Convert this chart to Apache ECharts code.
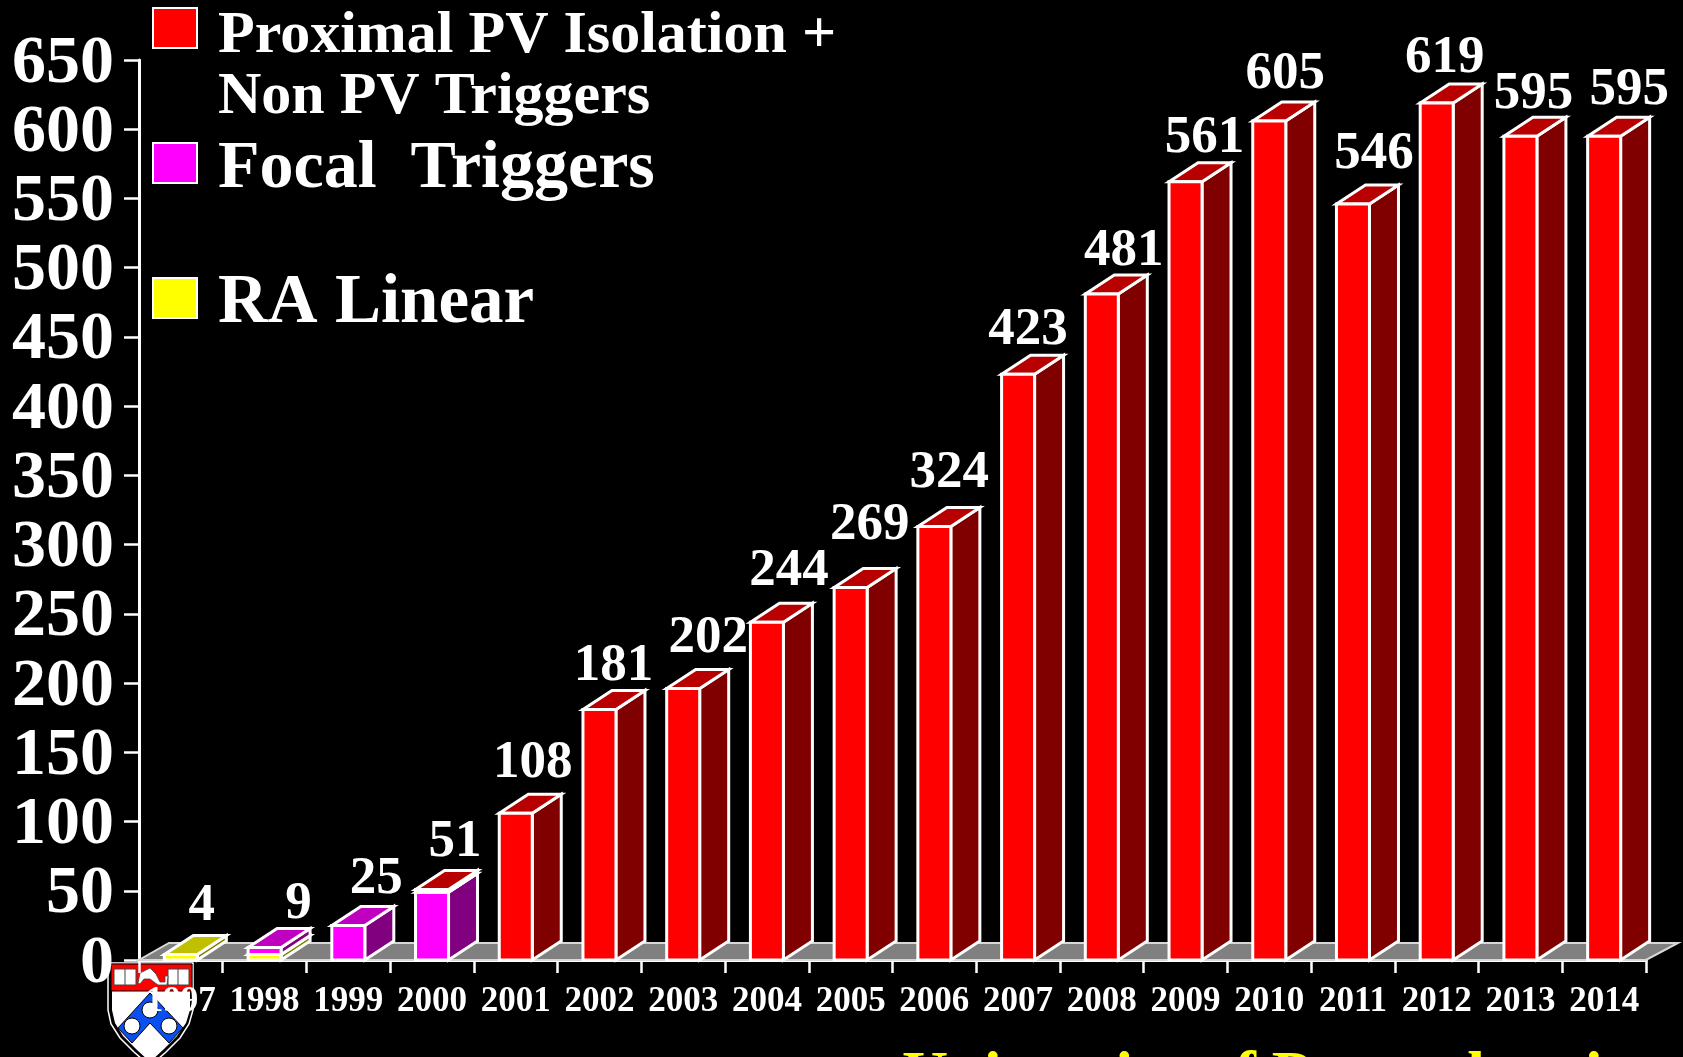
<!DOCTYPE html>
<html>
<head>
<meta charset="utf-8">
<title>Ablation procedures by year</title>
<style>
  html, body { margin: 0; padding: 0; background: #000; }
  #chart { width: 1683px; height: 1057px; }
</style>
<script src="https://cdn.jsdelivr.net/npm/echarts@6/dist/echarts.min.js"></script>
</head>
<body>
<div id="chart"></div>
<script>
// 数据：年份、三个堆叠系列（读图估计的柱高）、柱顶数字
const years = ['1997', '1998', '1999', '2000', '2001', '2002', '2003', '2004', '2005',
  '2006', '2007', '2008', '2009', '2010', '2011', '2012', '2013', '2014'];
const raLinear = [4, 4, 0, 0, 0, 0, 0, 0, 0, 0, 0, 0, 0, 0, 0, 0, 0, 0];
const focalTriggers = [0, 5, 25, 49, 0, 0, 0, 0, 0, 0, 0, 0, 0, 0, 0, 0, 0, 0];
const pvIsolation = [0, 0, 0, 2, 106, 181, 196, 244, 269, 313, 423, 481, 562, 606, 546, 619, 595, 595];
const printedTotals = [4, 9, 25, 51, 108, 181, 202, 244, 269, 324, 423, 481, 561, 605, 546, 619, 595, 595];

// 柱顶数字相对柱顶的手工偏移（原图中数字是手动摆放的）
const labelShiftX = [21, 34, 28, 23, 17, 14, 25, 22, 19, 15, 10, 22, 19, 16, 21, 8, 13, 25];
const labelShiftY = [-48, -43, -46, -47, -50, -43, -50, -51, -62, -53, -44, -43, -44, -47, -50, -45, -42, -46];

const SERIF = '"Liberation Serif", "Times New Roman", serif';
const BAR_WIDTH = 33;
const DEPTH_X = 29;
const DEPTH_Y = 19;
const EDGE = { stroke: '#fff', lineWidth: 3, lineJoin: 'miter' };

// 生成立体柱的渲染函数
function prism(front, top, side) {
  return function (params, api) {
    const lo = api.value(1);
    const hi = api.value(2);
    if (hi <= lo) return null;
    const base = api.coord([api.value(0), lo]);
    const head = api.coord([api.value(0), hi]);
    const x0 = base[0] - BAR_WIDTH / 2;
    const x1 = base[0] + BAR_WIDTH / 2;
    const y0 = base[1];
    const y1 = head[1];
    const poly = (points, fill) => ({
      type: 'polygon',
      shape: { points },
      style: { fill, ...EDGE }
    });
    return {
      type: 'group',
      children: [
        poly([[x1, y0], [x1 + DEPTH_X, y0 - DEPTH_Y], [x1 + DEPTH_X, y1 - DEPTH_Y], [x1, y1]], side),
        poly([[x0, y1], [x1, y1], [x1 + DEPTH_X, y1 - DEPTH_Y], [x0 + DEPTH_X, y1 - DEPTH_Y]], top),
        poly([[x0, y0], [x1, y0], [x1, y1], [x0, y1]], front)
      ]
    };
  };
}

// 堆叠：每段 [类目序号, 下沿, 上沿]
let running = years.map(() => 0);
function stackRows(values) {
  const rows = values.map((v, i) => [i, running[i], running[i] + v]);
  running = running.map((r, i) => r + values[i]);
  return rows;
}
const raRows = stackRows(raLinear);
const focalRows = stackRows(focalTriggers);
const pvRows = stackRows(pvIsolation);
const labelRows = years.map((y, i) => [i, running[i], printedTotals[i], labelShiftX[i], labelShiftY[i]]);

// 灰色地板
function renderFloor(params, api) {
  const cs = params.coordSys;
  const y = cs.y + cs.height;
  return {
    type: 'polygon',
    shape: {
      points: [[cs.x, y], [cs.x + cs.width, y], [cs.x + cs.width + 32, y - 17], [cs.x + 30, y - 17]]
    },
    style: { fill: '#808080', stroke: '#d8d8d8', lineWidth: 2 }
  };
}

function renderLabel(params, api) {
  const p = api.coord([api.value(0), api.value(1)]);
  return {
    type: 'text',
    x: p[0] + api.value(3),
    y: p[1] + api.value(4),
    style: {
      text: String(api.value(2)),
      fill: '#fff',
      font: 'bold 53px ' + SERIF,
      align: 'center',
      verticalAlign: 'middle'
    }
  };
}

function legendSwatch(y, fill) {
  return {
    type: 'rect',
    shape: { x: 153, y, width: 44, height: 40 },
    style: { fill, stroke: '#fff', lineWidth: 2 }
  };
}

function legendText(text, y, size) {
  return {
    type: 'text',
    x: 218,
    y,
    style: {
      text,
      fill: '#fff',
      font: 'bold ' + size + 'px ' + SERIF,
      verticalAlign: 'middle'
    }
  };
}

// 宾大校徽（在坐标轴之下）
const shield = {
  type: 'group',
  z: -10,
  children: [
    { type: 'polygon', z: -10, shape: { points: [[108, 963], [193, 963], [193, 1010], [189, 1024], [180, 1038], [166, 1052], [150, 1066], [134, 1052], [120, 1038], [111, 1024], [108, 1010]] }, style: { fill: '#000', stroke: '#fff', lineWidth: 1.5 } },
    { type: 'polygon', z: -10, shape: { points: [[112, 991], [190, 991], [190, 1010], [186, 1023], [177, 1036], [164, 1049], [150, 1062], [136, 1049], [123, 1036], [115, 1023], [112, 1010]] }, style: { fill: '#fff' } },
    { type: 'rect', z: -10, shape: { x: 111, y: 964, width: 81, height: 27 }, style: { fill: '#f00', stroke: '#000', lineWidth: 1 } },
    { type: 'rect', z: -10, shape: { x: 114, y: 969, width: 22, height: 16 }, style: { fill: '#fff', stroke: '#444', lineWidth: 1 } },
    { type: 'line', z: -10, shape: { x1: 125, y1: 969, x2: 125, y2: 985 }, style: { stroke: '#444', lineWidth: 1 } },
    { type: 'rect', z: -10, shape: { x: 168, y: 969, width: 21, height: 16 }, style: { fill: '#fff', stroke: '#444', lineWidth: 1 } },
    { type: 'line', z: -10, shape: { x1: 178, y1: 969, x2: 178, y2: 985 }, style: { stroke: '#444', lineWidth: 1 } },
    { type: 'polygon', z: -10, shape: { points: [[138, 983], [140, 973], [150, 968], [156, 974], [160, 982], [165, 982], [165, 976], [168, 976], [167, 985], [158, 985], [150, 979], [144, 979], [140, 984]] }, style: { fill: '#fff', stroke: '#444', lineWidth: 0.8 } },
    { type: 'polygon', z: -10, shape: { points: [[150, 993], [183, 1028], [169, 1043], [150, 1023], [132, 1043], [118, 1028]] }, style: { fill: '#0a50f0', stroke: '#000', lineWidth: 1 } },
    { type: 'circle', z: -10, shape: { cx: 150, cy: 1010, r: 8 }, style: { fill: '#fff', stroke: '#000', lineWidth: 1 } },
    { type: 'circle', z: -10, shape: { cx: 132, cy: 1026, r: 8 }, style: { fill: '#fff', stroke: '#000', lineWidth: 1 } },
    { type: 'circle', z: -10, shape: { cx: 169, cy: 1026, r: 8 }, style: { fill: '#fff', stroke: '#000', lineWidth: 1 } }
  ]
};

const chart = echarts.init(document.getElementById('chart'));

chart.setOption({
  backgroundColor: '#000',
  animation: false,
  grid: { left: 139, top: 60, width: 1507, height: 900 },
  xAxis: {
    type: 'category',
    data: years,
    boundaryGap: true,
    axisLine: { lineStyle: { color: '#fff', width: 3 } },
    axisTick: { show: true, alignWithLabel: false, interval: 0, inside: false, length: 13, lineStyle: { color: '#fff', width: 2.5 } },
    axisLabel: { interval: 0, color: '#fff', fontFamily: SERIF, fontWeight: 'bold', fontSize: 35, margin: 24 }
  },
  yAxis: {
    type: 'value',
    min: 0,
    max: 650,
    interval: 50,
    splitLine: { show: false },
    axisLine: { show: true, lineStyle: { color: '#fff', width: 3 } },
    axisTick: { show: true, inside: false, length: 15, lineStyle: { color: '#fff', width: 2.5 } },
    // 数字比刻度略低：顶对齐 + 小行高
    axisLabel: { color: '#fff', fontFamily: SERIF, fontWeight: 'bold', fontSize: 68, margin: 25, verticalAlign: 'top', lineHeight: 8 }
  },
  series: [
    { type: 'custom', name: 'Floor', renderItem: renderFloor, data: [[0, 0]], silent: true, clip: false },
    { type: 'custom', name: 'RA Linear', renderItem: prism('#ff0', '#c0c000', '#808000'), data: raRows, clip: false },
    { type: 'custom', name: 'Focal Triggers', renderItem: prism('#f0f', '#c000c0', '#800080'), data: focalRows, clip: false },
    { type: 'custom', name: 'Proximal PV Isolation + Non PV Triggers', renderItem: prism('#f00', '#b80000', '#800000'), data: pvRows, clip: false },
    { type: 'custom', name: 'Totals', renderItem: renderLabel, data: labelRows, clip: false }
  ],
  graphic: [
    shield,
    legendSwatch(8, '#f00'),
    legendSwatch(143, '#f0f'),
    legendSwatch(278, '#ff0'),
    legendText('Proximal PV Isolation +', 36, 60),
    legendText('Non PV Triggers', 97, 60),
    legendText('Focal  Triggers', 169, 68),
    legendText('RA Linear', 304, 69),
    {
      type: 'text',
      x: 902,
      y: 1110,
      style: {
        text: 'University of Pennsylvania',
        fill: '#ff0',
        font: 'bold 64px ' + SERIF,
        verticalAlign: 'bottom'
      }
    }
  ]
});
</script>
</body>
</html>
